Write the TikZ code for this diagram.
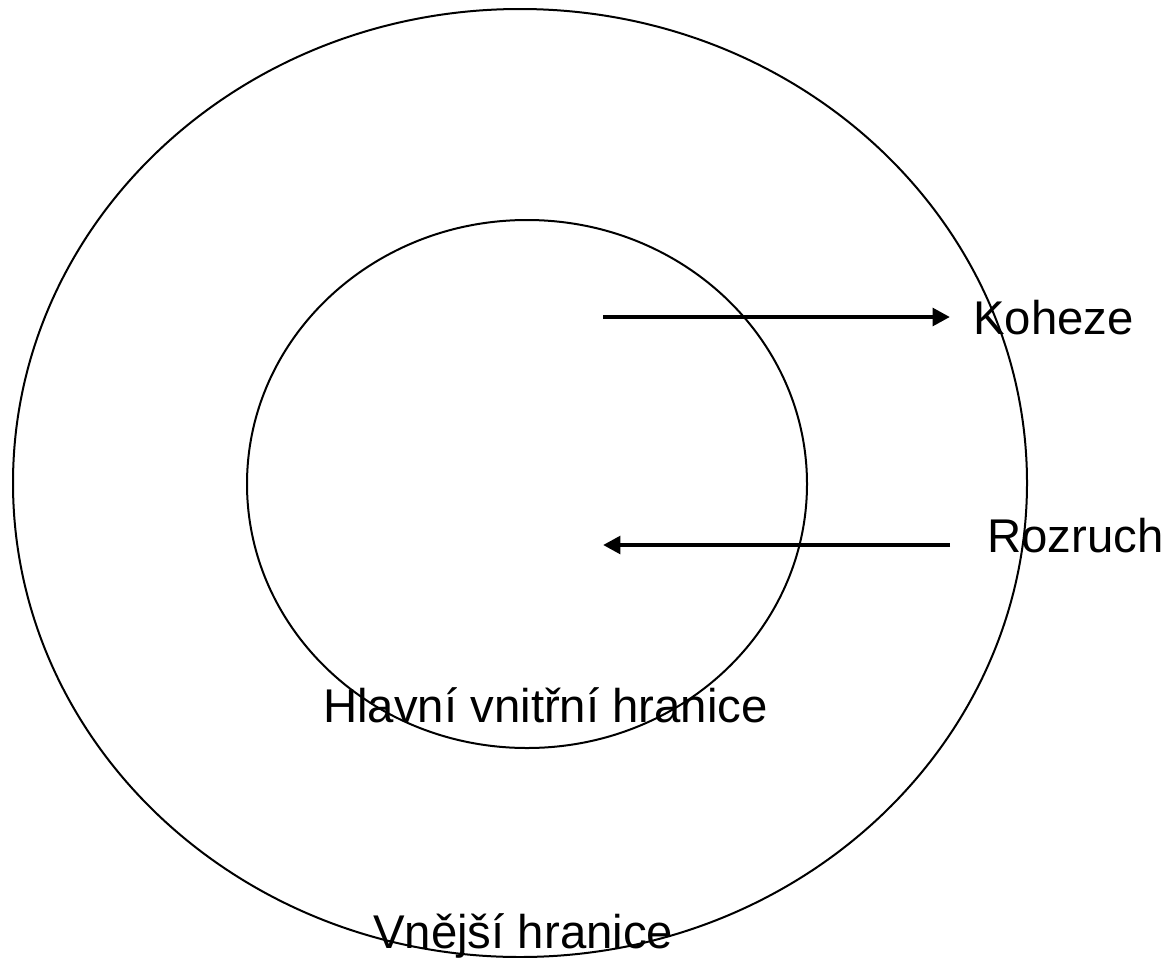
\documentclass[tikz,border=0pt]{standalone}
\usepackage{fontspec}
\setmainfont{Liberation Sans}
\usetikzlibrary{shapes.geometric, arrows.meta}
\usetikzlibrary{positioning}

\begin{document}
\begin{tikzpicture}[
        x=0.75pt, y=-0.75pt, % 1 unit = 1 px, y downward
        boundary/.style={ellipse, draw=black, line width=1.5pt, inner sep=0pt},
        caption/.style={anchor=base west, inner sep=0pt, font=\fontsize{35.5}{40}\selectfont},
        arrow/.style={line width=3.4pt, -{Triangle[length=13pt, width=13pt]}}
    ]
        \useasboundingbox (0,0) rectangle (1167,957);

        % ===== 边界 =====
        \node (outer) [boundary, minimum width=760.5pt, minimum height=711pt] at (520,483) {};
        \node (inner) [boundary, minimum width=420pt, minimum height=396pt] at (527,484) {};

        % ===== 文字 =====
        \node (koheze) [caption] at (973,334) {Koheze};
        \node (rozruch) [caption] at (987,552) {Rozruch};
        \node (hlavni) [caption] at (323,722) {Hlavní vnitřní hranice};
        \node (vnejsi) [caption] at (373,948) {Vnější hranice};

        % ===== 箭头 =====
        \coordinate (kohStart) at (603,317);
        \coordinate (kohEnd) at (950,317);
        \coordinate (rozStart) at (950,545);
        \coordinate (rozEnd) at (603,545);
        \draw [arrow] (kohStart) -- (kohEnd);
        \draw [arrow] (rozStart) -- (rozEnd);

    \end{tikzpicture}
\end{document}
